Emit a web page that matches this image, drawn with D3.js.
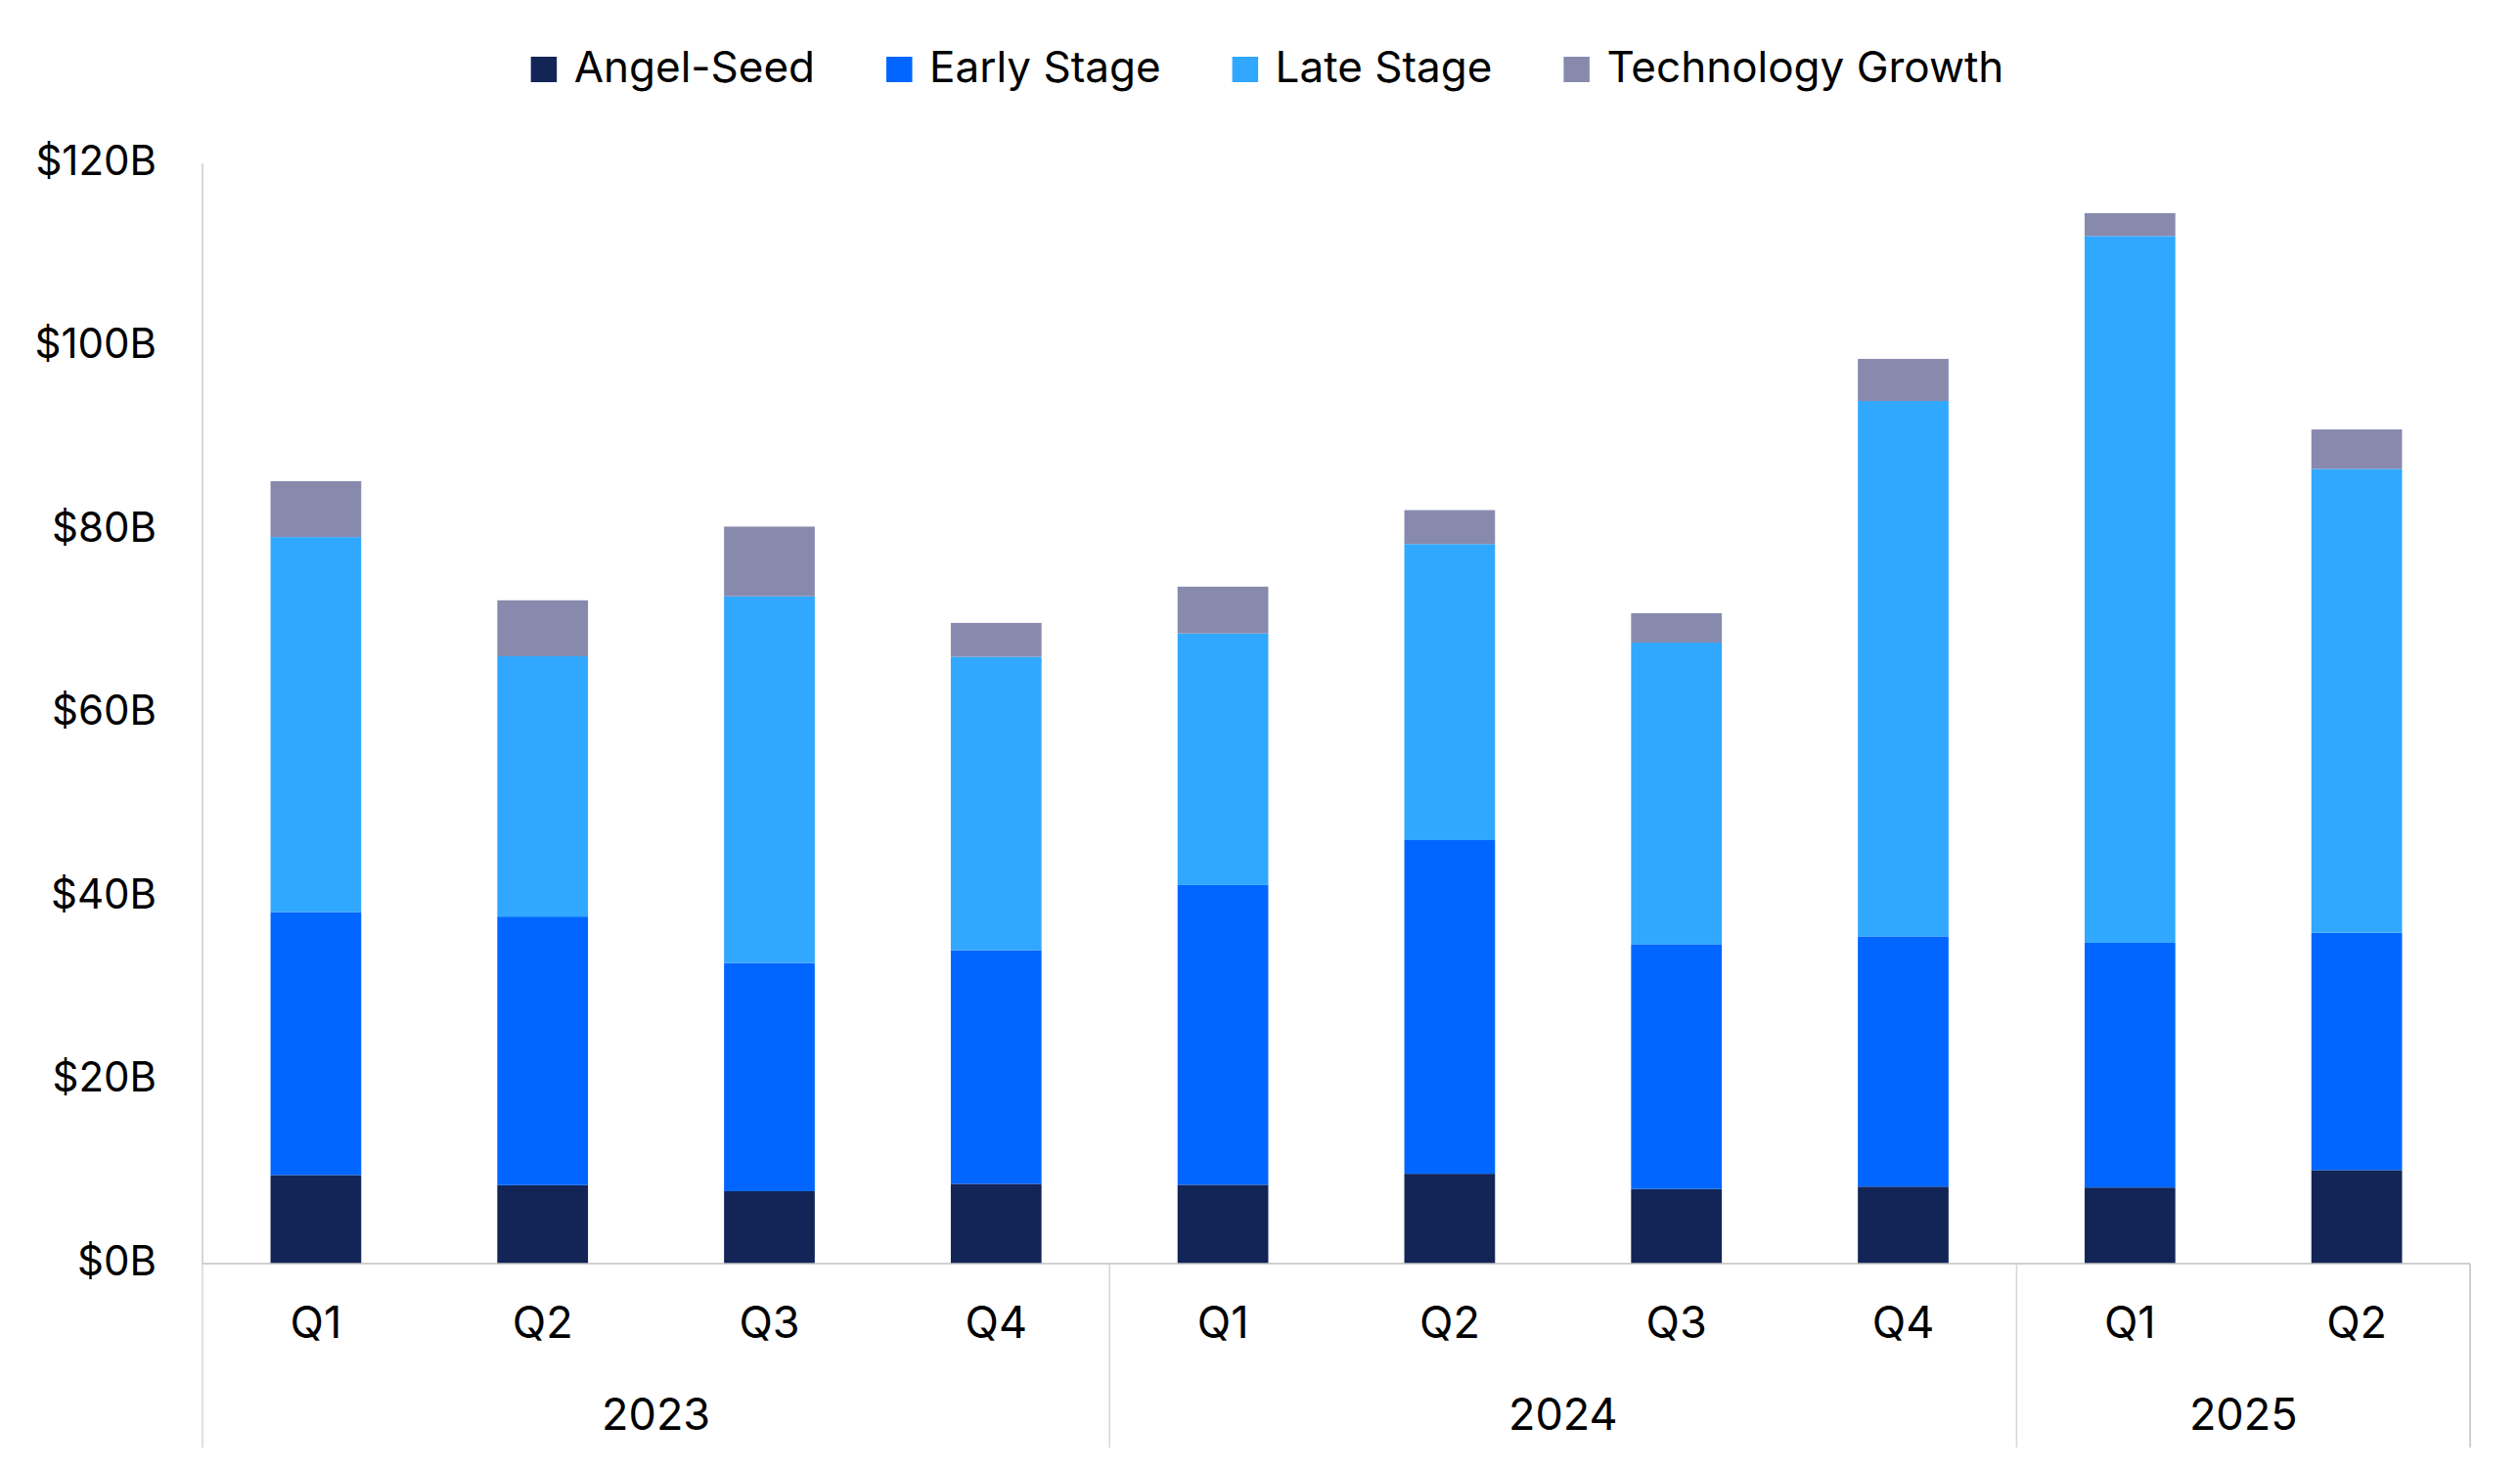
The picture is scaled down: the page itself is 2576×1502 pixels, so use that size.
<!DOCTYPE html>
<html lang="en">
<head>
    <meta charset="UTF-8">
    <title>Venture funding by stage</title>

    <script src="https://d3js.org/d3.v7.min.js"></script>

    <style>
        body {
            margin: 0;
            background: #ffffff;
        }

        svg text {
            font-family: Inter, "Noto Sans", sans-serif;
            fill: #000000;
        }
    </style>

    <script>

        // quarter labels and the year each bar belongs to
        const quarters = ["Q1", "Q2", "Q3", "Q4", "Q1", "Q2", "Q3", "Q4", "Q1", "Q2"];
        const years = ["2023", "2023", "2023", "2023", "2024", "2024", "2024", "2024", "2025", "2025"];

        // funding per stage, $B
        const angelSeed = [9.66, 8.56, 7.9, 8.7, 8.6, 9.8, 8.15, 8.4, 8.3, 10.2];
        const earlyStage = [28.7, 29.3, 24.9, 25.5, 32.7, 36.4, 26.7, 27.3, 26.7, 25.9];
        const lateStage = [40.9, 28.4, 40.0, 32.0, 27.45, 32.3, 32.9, 58.4, 77.1, 50.6];
        const techGrowth = [6.1, 6.1, 7.6, 3.7, 5.1, 3.7, 3.2, 4.6, 2.5, 4.3];

        const seriesNames = ["Angel-Seed", "Early Stage", "Late Stage", "Technology Growth"];
        const seriesColors = ["#132457", "#0066ff", "#30a8ff", "#888aad"];

        const yTicks = [0, 20, 40, 60, 80, 100, 120];

        document.addEventListener("DOMContentLoaded", () => makeGraph());

        function makeGraph() {
            const width = 2576;
            const height = 1502;

            const plot = {left: 207, right: 2525, top: 167.3, bottom: 1292, labelsBottom: 1480};

            const svg = d3.select("svg")
                .attr("width", width)
                .attr("height", height);

            // one row per bar, one key per series
            const rows = quarters.map((q, i) => ({
                index: i,
                "Angel-Seed": angelSeed[i],
                "Early Stage": earlyStage[i],
                "Late Stage": lateStage[i],
                "Technology Growth": techGrowth[i]
            }));

            const stacked = d3.stack().keys(seriesNames)(rows);

            const xScale = d3.scaleBand()
                .domain(quarters.map((q, i) => i))
                .range([plot.left, plot.right])
                .paddingInner(0.6)
                .paddingOuter(0.3);

            const yScale = d3.scaleLinear().domain([0, 120]).range([plot.bottom, plot.top]);

            const color = d3.scaleOrdinal().domain(seriesNames).range(seriesColors);

            // y axis labels only, the line is drawn below
            const yAxis = svg.append("g")
                .attr("transform", `translate(${plot.left}, 0)`)
                .call(d3.axisLeft(yScale).tickValues(yTicks).tickSize(0).tickPadding(47)
                    .tickFormat(d => "$" + d + "B"));
            yAxis.select(".domain").remove();
            yAxis.selectAll("text")
                .attr("dy", null)
                .attr("y", 11)
                .style("font-size", "42px")
                .style("font-family", "Inter, 'Noto Sans', sans-serif");

            svg.append("line")
                .attr("x1", plot.left).attr("x2", plot.left)
                .attr("y1", plot.top).attr("y2", plot.bottom)
                .attr("stroke", "#c8c8c8")
                .attr("stroke-width", 1.5);

            // bars
            svg.append("g")
                .selectAll("g")
                .data(stacked)
                .enter()
                .append("g")
                .attr("fill", d => color(d.key))
                .selectAll("rect")
                .data(d => d)
                .enter()
                .append("rect")
                .attr("x", d => xScale(d.data.index))
                .attr("y", d => yScale(d[1]))
                .attr("width", xScale.bandwidth())
                .attr("height", d => yScale(d[0]) - yScale(d[1]));

            // quarter labels
            const xAxis = svg.append("g")
                .attr("transform", `translate(0, ${plot.bottom})`)
                .call(d3.axisBottom(xScale).tickSize(0).tickFormat(i => quarters[i]));
            xAxis.select(".domain").remove();
            xAxis.selectAll("text")
                .attr("dy", null)
                .attr("y", 76.3)
                .style("font-size", "45px")
                .style("font-family", "Inter, 'Noto Sans', sans-serif");

            svg.append("line")
                .attr("x1", plot.left).attr("x2", plot.right)
                .attr("y1", plot.bottom).attr("y2", plot.bottom)
                .attr("stroke", "#bfbfbf")
                .attr("stroke-width", 1.5);

            // year groups
            const step = xScale.step();
            const yearGroups = [];
            years.forEach((y, i) => {
                const last = yearGroups[yearGroups.length - 1];
                if (last && last.year === y) {
                    last.end = i;
                } else {
                    yearGroups.push({year: y, start: i, end: i});
                }
            });
            yearGroups.forEach(g => {
                g.x0 = xScale(g.start) - step * 0.3;
                g.x1 = xScale(g.end) + xScale.bandwidth() + step * 0.3;
            });

            const boundaries = [yearGroups[0].x0].concat(yearGroups.map(g => g.x1));
            svg.append("g")
                .selectAll("line")
                .data(boundaries)
                .enter()
                .append("line")
                .attr("x1", d => d).attr("x2", d => d)
                .attr("y1", plot.bottom).attr("y2", plot.labelsBottom)
                .attr("stroke", (d, i) => i === boundaries.length - 1 ? "#c0c0c0" : "#d6d6d6")
                .attr("stroke-width", 1.5);

            svg.append("g")
                .selectAll("text")
                .data(yearGroups)
                .enter()
                .append("text")
                .attr("x", g => (g.x0 + g.x1) / 2)
                .attr("y", 1461.7)
                .attr("text-anchor", "middle")
                .style("font-size", "45px")
                .text(g => g.year);

            // legend, laid out from measured text widths and centred
            const legend = svg.append("g");
            const items = legend.selectAll("g")
                .data(seriesNames)
                .enter()
                .append("g");
            items.append("rect")
                .attr("y", 58)
                .attr("width", 26.5)
                .attr("height", 26)
                .attr("fill", d => color(d));
            items.append("text")
                .attr("x", 44)
                .attr("y", 83.5)
                .style("font-size", "44px")
                .text(d => d);

            let offset = 0;
            items.each(function () {
                const w = d3.select(this).select("text").node().getComputedTextLength();
                d3.select(this).attr("transform", `translate(${offset}, 0)`);
                offset += 44 + w + 73;
            });
            const total = offset - 73;
            legend.attr("transform", `translate(${1295.5 - total / 2}, 0)`);
        }

    </script>

</head>
<body>

    <svg></svg>

</body>
</html>
